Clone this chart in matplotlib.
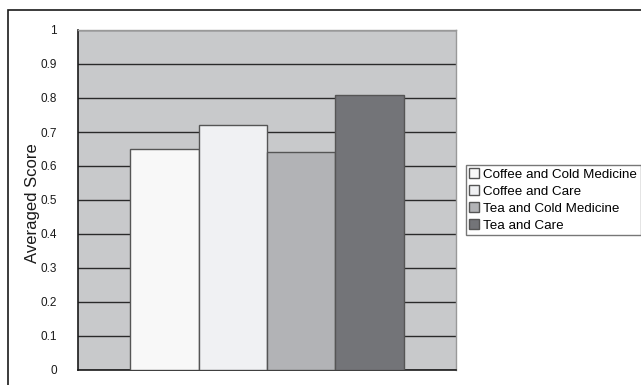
import matplotlib
matplotlib.use("Agg")
import matplotlib.pyplot as plt
import matplotlib.patches as patches

labels = ["Coffee and Cold Medicine", "Coffee and Care", "Tea and Cold Medicine", "Tea and Care"]
scores = [0.65, 0.72, 0.64, 0.81]
colors = ["#f8f8f8", "#f0f1f3", "#b2b3b6", "#737478"]
yticks = [0, 0.1, 0.2, 0.3, 0.4, 0.5, 0.6, 0.7, 0.8, 0.9, 1]
ytick_labels = ["0", "0.1", "0.2", "0.3", "0.4", "0.5", "0.6", "0.7", "0.8", "0.9", "1"]

plt.rcParams['font.family'] = ['Liberation Sans', 'DejaVu Sans']

W, H = 641, 385
fig = plt.figure(figsize=(W / 100, H / 100), dpi=100)
ax = fig.add_axes([78 / W, 1 - 370 / H, (456 - 78) / W, (370 - 30) / H])

# outer chart border (runs off right and bottom edges)
border = patches.Rectangle((8 / W, -0.1), 1.2, 1 - 10 / H + 0.1, transform=fig.transFigure,
                           fill=False, edgecolor="#1a1a1a", linewidth=1.2, clip_on=False)
fig.patches.append(border)

ax.set_facecolor("#c8c9cb")
ax.set_ylim(0, 1)
ax.set_yticks(yticks)
ax.set_yticklabels(ytick_labels)
ax.set_xticks([])
ax.yaxis.grid(True, color="#2a2a2a", linewidth=1.0)
ax.set_axisbelow(True)

n = len(scores)
for i, (lab, v, c) in enumerate(zip(labels, scores, colors)):
    x = i - (n - 1) / 2
    ax.bar(x, v, width=1.0, color=c, edgecolor="#555555", linewidth=1.0, label=lab, zorder=3)

ax.set_xlim(-2.76, 2.76)

for side in ["top", "right"]:
    ax.spines[side].set_color("#999999")
    ax.spines[side].set_linewidth(1.0)
for side in ["left", "bottom"]:
    ax.spines[side].set_color("#1a1a1a")
    ax.spines[side].set_linewidth(1.2)

ax.tick_params(axis="y", length=0, pad=15, labelsize=8.5, labelcolor="#1a1a1a")
ax.set_ylabel("Averaged Score", fontsize=12, color="#1a1a1a", va="center")
ax.yaxis.set_label_coords((33 - 78) / (456 - 78), 0.49)

leg = ax.legend(loc="center left", bbox_to_anchor=((466 - 78) / (456 - 78), 0.5),
                fontsize=9.6, frameon=True, fancybox=False, borderpad=0.25,
                labelspacing=0.34, handlelength=0.75, handleheight=0.75, handletextpad=0.3,
                borderaxespad=0)
leg.get_frame().set_edgecolor("#555555")
leg.get_frame().set_linewidth(1.0)

fig.savefig("out.png", dpi=100)
